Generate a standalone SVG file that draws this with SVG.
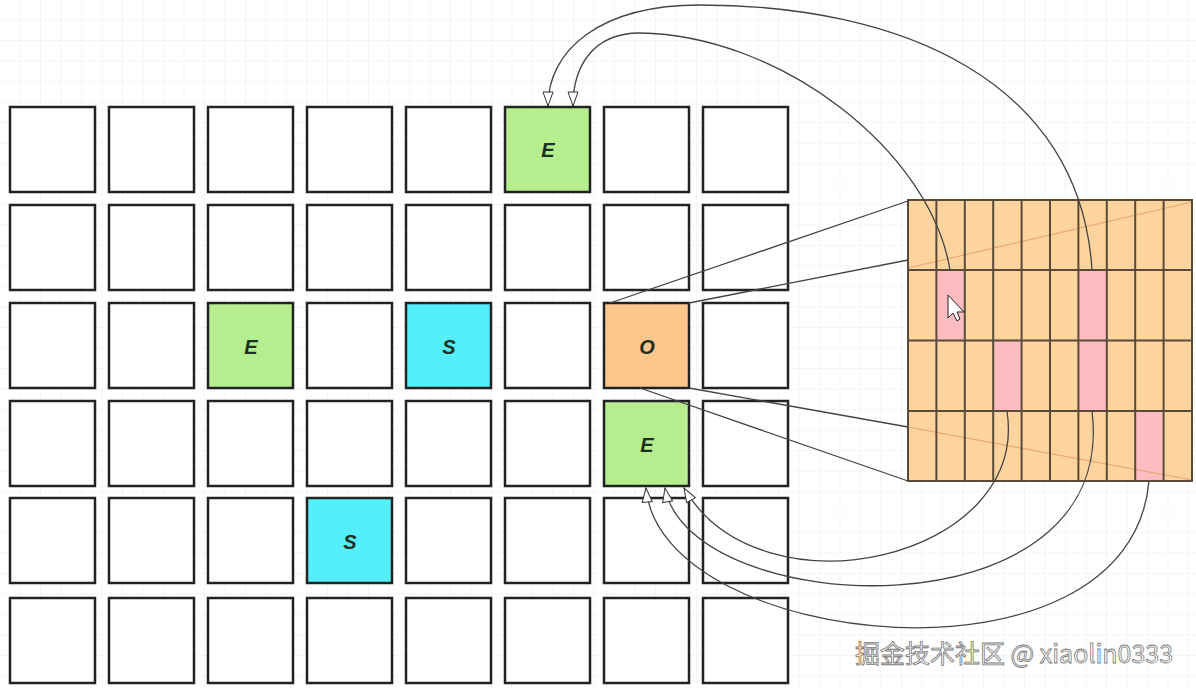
<svg xmlns="http://www.w3.org/2000/svg" width="1196" height="688" viewBox="0 0 1196 688">
<defs>
<pattern id="g" width="20.5" height="20.5" patternUnits="userSpaceOnUse"><path d="M20.5 0V20.5H0" fill="none" stroke="#ebebeb" stroke-width="1"/></pattern>
<marker id="a" viewBox="0 0 16 12" refX="15" refY="6" markerWidth="16" markerHeight="12" markerUnits="userSpaceOnUse" orient="auto"><path d="M15 6L1 1V11Z" fill="#fff" stroke="#333" stroke-width="1"/></marker>
<style>
.c{fill:#fff;stroke:#222;stroke-width:2.5}
.e{fill:#b5ed8f}.s{fill:#55eefb}.o{fill:#fdc78b}
.t{font-family:"Liberation Sans",sans-serif;font-size:20px;font-weight:bold;font-style:italic;fill:#1c3020;text-anchor:middle}
.m{fill:#fdd49e;stroke:#5a4a3a;stroke-width:2}
.p{fill:#fcbcc0}
.l{fill:none;stroke:#444;stroke-width:1.3}
</style>
</defs>
<rect width="1196" height="688" fill="#fff"/>
<rect width="1196" height="688" fill="url(#g)"/>
<g id="grid">
<g id="r0"><rect class="c" x="10" y="107" width="85" height="85"/><rect class="c" x="109" y="107" width="85" height="85"/><rect class="c" x="208" y="107" width="85" height="85"/><rect class="c" x="307" y="107" width="85" height="85"/><rect class="c" x="406" y="107" width="85" height="85"/><rect class="c e" x="505" y="107" width="85" height="85"/><rect class="c" x="604" y="107" width="85" height="85"/><rect class="c" x="703" y="107" width="85" height="85"/></g>
<g id="r1"><rect class="c" x="10" y="205" width="85" height="85"/><rect class="c" x="109" y="205" width="85" height="85"/><rect class="c" x="208" y="205" width="85" height="85"/><rect class="c" x="307" y="205" width="85" height="85"/><rect class="c" x="406" y="205" width="85" height="85"/><rect class="c" x="505" y="205" width="85" height="85"/><rect class="c" x="604" y="205" width="85" height="85"/><rect class="c" x="703" y="205" width="85" height="85"/></g>
<g id="r2"><rect class="c" x="10" y="303" width="85" height="85"/><rect class="c" x="109" y="303" width="85" height="85"/><rect class="c e" x="208" y="303" width="85" height="85"/><rect class="c" x="307" y="303" width="85" height="85"/><rect class="c s" x="406" y="303" width="85" height="85"/><rect class="c" x="505" y="303" width="85" height="85"/><rect class="c o" x="604" y="303" width="85" height="85"/><rect class="c" x="703" y="303" width="85" height="85"/></g>
<g id="r3"><rect class="c" x="10" y="401" width="85" height="85"/><rect class="c" x="109" y="401" width="85" height="85"/><rect class="c" x="208" y="401" width="85" height="85"/><rect class="c" x="307" y="401" width="85" height="85"/><rect class="c" x="406" y="401" width="85" height="85"/><rect class="c" x="505" y="401" width="85" height="85"/><rect class="c e" x="604" y="401" width="85" height="85"/><rect class="c" x="703" y="401" width="85" height="85"/></g>
<g id="r4"><rect class="c" x="10" y="498" width="85" height="85"/><rect class="c" x="109" y="498" width="85" height="85"/><rect class="c" x="208" y="498" width="85" height="85"/><rect class="c s" x="307" y="498" width="85" height="85"/><rect class="c" x="406" y="498" width="85" height="85"/><rect class="c" x="505" y="498" width="85" height="85"/><rect class="c" x="604" y="498" width="85" height="85"/><rect class="c" x="703" y="498" width="85" height="85"/></g>
<g id="r5"><rect class="c" x="10" y="598" width="85" height="85"/><rect class="c" x="109" y="598" width="85" height="85"/><rect class="c" x="208" y="598" width="85" height="85"/><rect class="c" x="307" y="598" width="85" height="85"/><rect class="c" x="406" y="598" width="85" height="85"/><rect class="c" x="505" y="598" width="85" height="85"/><rect class="c" x="604" y="598" width="85" height="85"/><rect class="c" x="703" y="598" width="85" height="85"/></g>
<text class="t" x="548" y="157">E</text>
<text class="t" x="251" y="354">E</text>
<text class="t" x="449" y="354">S</text>
<text class="t" x="647" y="354">O</text>
<text class="t" x="647" y="452">E</text>
<text class="t" x="350" y="549">S</text>
</g>
<g id="matrix">
<rect class="m" x="908" y="200" width="284" height="281"/>
<rect class="p" x="937" y="271" width="27" height="69"/>
<rect class="p" x="1079" y="271" width="27" height="139"/>
<rect class="p" x="994" y="341" width="27" height="69"/>
<rect class="p" x="1136" y="411" width="27" height="69"/>
<path d="M908 268L1192 202M908 427L1192 480" stroke="#e8a870" stroke-width="1.2" fill="none"/>
<path d="M936.4 200V481M964.8 200V481M993.2 200V481M1021.6 200V481M1050 200V481M1078.4 200V481M1106.8 200V481M1135.2 200V481M1163.6 200V481M908 270H1192M908 340.5H1192M908 411H1192" stroke="#5a4a3a" stroke-width="2" fill="none"/>
<rect x="908" y="200" width="284" height="281" fill="none" stroke="#5a4a3a" stroke-width="2"/>
<path d="M948 295L948 318L953 313L957 321L960 319L957 312L964 312Z" fill="#fff" stroke="#222" stroke-width="1"/>
</g>
<g id="connectors">
<path class="l" d="M610 303L908 201M689 303L908 260M689 388L908 427M640 388L908 481"/>
<path class="l" marker-end="url(#a)" d="M1092 270C1080 80 900 5 700 5C600 5 548 50 548 106"/>
<path class="l" marker-end="url(#a)" d="M950 270C930 150 780 35 640 33C590 33 573 70 573 106"/>
<path class="l" marker-end="url(#a)" d="M1007 411C1030 560 760 620 684 488"/>
<path class="l" marker-end="url(#a)" d="M1092 411C1120 640 690 620 665 488"/>
<path class="l" marker-end="url(#a)" d="M1149 481C1130 700 660 650 646 488"/>
</g>
<text x="1014" y="663" font-family="'Noto Sans CJK SC',sans-serif" font-size="25" fill="#fff" stroke="#777" stroke-width="0.8" text-anchor="middle">掘金技术社区 @ xiaolin0333</text>
</svg>
